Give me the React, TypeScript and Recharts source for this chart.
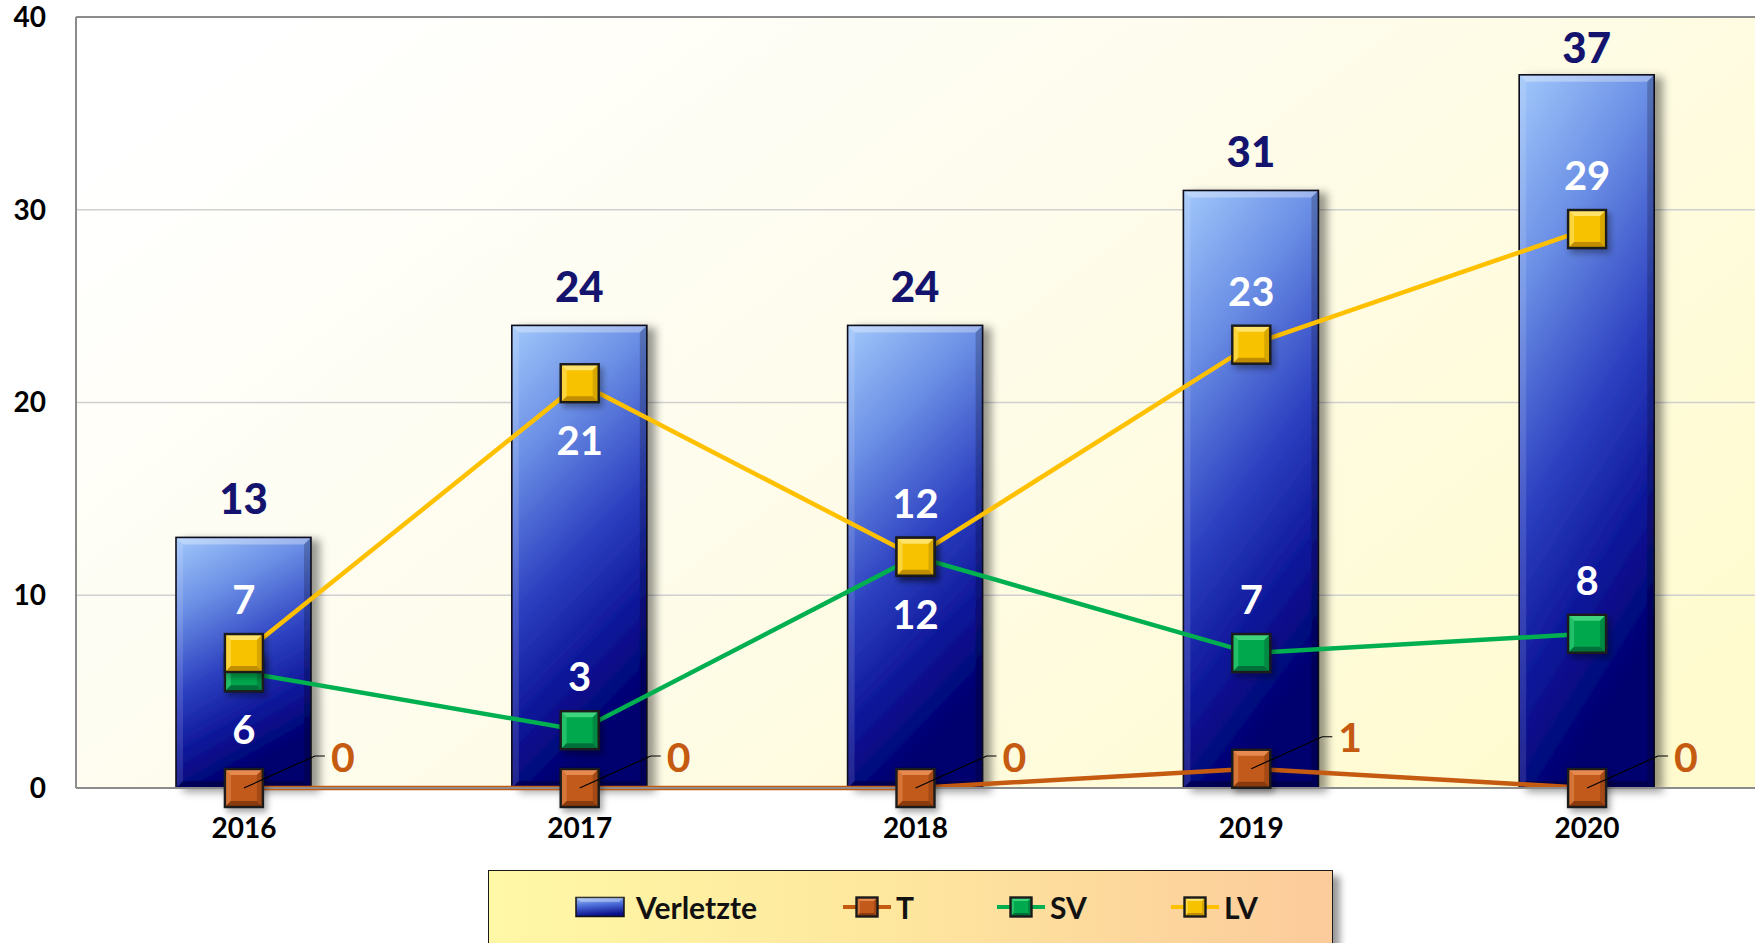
import React from 'react';
import {
  ComposedChart,
  Bar,
  Line,
  XAxis,
  YAxis,
  CartesianGrid,
  LabelList,
  ReferenceLine,
} from 'recharts';

// ---------- data ----------
const years = ['2016', '2017', '2018', '2019', '2020'];
const verletzte = [13, 24, 24, 31, 37];
const tValues = [0, 0, 0, 1, 0];
const svValues = [6, 3, 12, 7, 8];
const lvValues = [7, 21, 12, 23, 29];
const yTicks = [0, 10, 20, 30, 40];
const seriesNames = ['Verletzte', 'T', 'SV', 'LV'];

// label placement (style config)
const svLabelSide = ['below', 'above', 'below', 'above', 'above'];
const lvLabelSide = ['above', 'below', 'above', 'above', 'above'];

const data = years.map((year, i) => ({
  year,
  verletzte: verletzte[i],
  t: tValues[i],
  sv: svValues[i],
  lv: lvValues[i],
}));

const FONT = 'Lato, "Open Sans", sans-serif';
const PLOT_TOP = 17;

const COLORS = {
  t: { line: '#C55A11', base: '#C25A1C', light: '#E68A50', dark: '#8A3A0E' },
  sv: { line: '#00B050', base: '#00A84E', light: '#3FD47E', dark: '#00703A' },
  lv: { line: '#FFC000', base: '#F7C300', light: '#FFE36A', dark: '#C08E00' },
};

const BarShape = (props: any) => {
  const { x, y, width, height } = props;
  if (!height || height <= 0) return null;
  const b = 7;
  const x2 = x + width;
  const y2 = y + height;
  return (
    <g filter="url(#barShadow)">
      <rect x={x} y={y} width={width} height={height} fill="url(#barGrad)" />
      <polygon points={`${x},${y} ${x2},${y} ${x2 - b},${y + b} ${x + b},${y + b}`} fill="#ffffff" fillOpacity={0.32} />
      <polygon points={`${x},${y} ${x + b},${y + b} ${x + b},${y2 - b} ${x},${y2}`} fill="#ffffff" fillOpacity={0.12} />
      <polygon points={`${x2},${y} ${x2},${y2} ${x2 - b},${y2 - b} ${x2 - b},${y + b}`} fill="#000000" fillOpacity={0.2} />
      <polygon points={`${x},${y2} ${x + b},${y2 - b} ${x2 - b},${y2 - b} ${x2},${y2}`} fill="#000000" fillOpacity={0.28} />
      <rect x={x} y={y} width={width} height={height} fill="none" stroke="#0a0a1a" strokeWidth={1.6} />
    </g>
  );
};

const Marker = ({ cx, cy, c, hw = 19, hh = 19, b = 6, shadow = true }: any) => {
  if (cx == null || cy == null) return null;
  const l = cx - hw, r = cx + hw, t = cy - hh, bt = cy + hh;
  return (
    <g filter={shadow ? 'url(#markerShadow)' : undefined}>
      <rect x={l} y={t} width={hw * 2} height={hh * 2} fill={c.base} />
      <polygon points={`${l},${t} ${r},${t} ${r - b},${t + b} ${l + b},${t + b}`} fill={c.light} />
      <polygon points={`${l},${t} ${l + b},${t + b} ${l + b},${bt - b} ${l},${bt}`} fill={c.light} fillOpacity={0.55} />
      <polygon points={`${r},${t} ${r},${bt} ${r - b},${bt - b} ${r - b},${t + b}`} fill={c.dark} fillOpacity={0.55} />
      <polygon points={`${l},${bt} ${l + b},${bt - b} ${r - b},${bt - b} ${r},${bt}`} fill={c.dark} />
      <rect x={l} y={t} width={hw * 2} height={hh * 2} fill="none" stroke="#1a1a1a" strokeWidth={2.4} />
    </g>
  );
};

const makeDot = (key: string, c: any) => (p: any) => (
  <Marker key={`${key}-${p.index}`} cx={p.cx} cy={p.cy} c={c} />
);

const BarTopLabel = (p: any) => {
  const { x, y, width, value } = p;
  const cy = Math.max(y - 39, PLOT_TOP + 30);
  return (
    <text
      x={x + width / 2}
      y={cy}
      textAnchor="middle"
      dominantBaseline="central"
      fill="#14146E"
      fontSize={42}
      fontWeight={900}
      fontFamily={FONT}
    >
      {value}
    </text>
  );
};

const makeSideLabel = (sides: string[]) => (p: any) => {
  const { x, y, value, index } = p;
  const dy = sides[index] === 'above' ? -54 : 57;
  return (
    <text
      x={x}
      y={y + dy}
      textAnchor="middle"
      dominantBaseline="central"
      fill="#ffffff"
      fontSize={40}
      fontWeight={700}
      fontFamily={FONT}
    >
      {value}
    </text>
  );
};

const TLabel = (p: any) => {
  const { x, y, value } = p;
  const ly = y - 32;
  return (
    <g>
      <polyline points={`${x},${y} ${x + 71},${ly} ${x + 81},${ly}`} stroke="#000" strokeWidth={1.2} fill="none" />
      <text
        x={x + 87}
        y={ly}
        dominantBaseline="central"
        fill="#C55A11"
        fontSize={41}
        fontWeight={700}
        fontFamily={FONT}
      >
        {value}
      </text>
    </g>
  );
};

const LegendIcon = ({ kind }: { kind: string }) => {
  if (kind === 'bar') {
    return (
      <svg width={50} height={22} style={{ display: 'block' }}>
        <defs>
          <linearGradient id="lgBar" x1="0" y1="0" x2="0.2" y2="1">
            <stop offset="0" stopColor="#9cc2f8" />
            <stop offset="0.5" stopColor="#4666d4" />
            <stop offset="1" stopColor="#0a0f88" />
          </linearGradient>
        </defs>
        <rect x={1} y={1.5} width={48} height={19} fill="url(#lgBar)" stroke="#111" strokeWidth={1.5} />
        <polygon points="1,1.5 49,1.5 44,6 6,6" fill="#fff" fillOpacity={0.3} />
      </svg>
    );
  }
  const c = (COLORS as any)[kind];
  return (
    <svg width={50} height={22} style={{ display: 'block' }}>
      <line x1={1} y1={11} x2={49} y2={11} stroke={c.line} strokeWidth={4} />
      <Marker cx={25} cy={11} c={c} hw={10.5} hh={9.5} b={3.5} shadow={false} />
    </svg>
  );
};

const legendItems = [
  { name: seriesNames[0], kind: 'bar', iconLeft: 87, textLeft: 147 },
  { name: seriesNames[1], kind: 't', iconLeft: 354, textLeft: 407 },
  { name: seriesNames[2], kind: 'sv', iconLeft: 508, textLeft: 561 },
  { name: seriesNames[3], kind: 'lv', iconLeft: 682, textLeft: 735 },
];

export default function App() {
  return (
    <div
      style={{
        position: 'absolute',
        left: 0,
        top: 0,
        width: 1755,
        height: 943,
        overflow: 'hidden',
        background: '#ffffff',
        fontFamily: FONT,
      }}
    >
      <ComposedChart
        width={1755}
        height={943}
        data={data}
        margin={{ top: PLOT_TOP, right: 0, left: 0, bottom: 115 }}
        barSize={135}
        style={{ fontFamily: FONT }}
      >
        <defs>
          <linearGradient id="plotBg" x1="0" y1="0.2" x2="1" y2="0.8">
            <stop offset="0" stopColor="#ffffff" />
            <stop offset="0.45" stopColor="#fefcec" />
            <stop offset="1" stopColor="#fffbcf" />
          </linearGradient>
          <linearGradient id="barGrad" x1="0" y1="0" x2="0.3" y2="1">
            <stop offset="0" stopColor="#a2c8fb" />
            <stop offset="0.28" stopColor="#6b8fe5" />
            <stop offset="0.58" stopColor="#2c40c0" />
            <stop offset="0.82" stopColor="#0c1496" />
            <stop offset="1" stopColor="#00006e" />
          </linearGradient>
          <filter id="barShadow" x="-20%" y="-10%" width="150%" height="130%">
            <feDropShadow dx="8" dy="3" stdDeviation="4" floodColor="#000" floodOpacity="0.4" />
          </filter>
          <filter id="markerShadow" x="-40%" y="-40%" width="190%" height="190%">
            <feDropShadow dx="3" dy="4" stdDeviation="3" floodColor="#000" floodOpacity="0.35" />
          </filter>
        </defs>
        <CartesianGrid vertical={false} stroke="#d0d0d0" strokeWidth={1.3} fill="url(#plotBg)" />
        <XAxis
          dataKey="year"
          height={40}
          axisLine={{ stroke: '#8c8c8c', strokeWidth: 2 }}
          tickLine={false}
          tickSize={0}
          tickMargin={30}
          tick={{ fill: '#000', fontSize: 28, fontWeight: 700, fontFamily: FONT }}
          interval={0}
        />
        <YAxis
          width={76}
          domain={[0, 40]}
          ticks={yTicks}
          axisLine={{ stroke: '#8c8c8c', strokeWidth: 2 }}
          tickLine={false}
          tickSize={0}
          tickMargin={30}
          tick={{ fill: '#000', fontSize: 28, fontWeight: 700, fontFamily: FONT }}
          interval={0}
        />
        <ReferenceLine y={40} stroke="#8c8c8c" strokeWidth={2} />
        <Bar dataKey="verletzte" name={seriesNames[0]} shape={BarShape} isAnimationActive={false}>
          <LabelList dataKey="verletzte" content={BarTopLabel} />
        </Bar>
        <Line
          dataKey="t"
          name={seriesNames[1]}
          stroke={COLORS.t.line}
          strokeWidth={4.5}
          dot={makeDot('t', COLORS.t)}
          activeDot={false}
          isAnimationActive={false}
        >
          <LabelList dataKey="t" content={TLabel} />
        </Line>
        <Line
          dataKey="sv"
          name={seriesNames[2]}
          stroke={COLORS.sv.line}
          strokeWidth={4.5}
          dot={makeDot('sv', COLORS.sv)}
          activeDot={false}
          isAnimationActive={false}
        >
          <LabelList dataKey="sv" content={makeSideLabel(svLabelSide)} />
        </Line>
        <Line
          dataKey="lv"
          name={seriesNames[3]}
          stroke={COLORS.lv.line}
          strokeWidth={4.5}
          dot={makeDot('lv', COLORS.lv)}
          activeDot={false}
          isAnimationActive={false}
        >
          <LabelList dataKey="lv" content={makeSideLabel(lvLabelSide)} />
        </Line>
      </ComposedChart>

      <div
        style={{
          position: 'absolute',
          left: 488,
          top: 870,
          width: 845,
          height: 110,
          boxSizing: 'border-box',
          border: '1.6px solid #1a1a1a',
          background: 'linear-gradient(to right, #fff8a6 0%, #fee89e 45%, #fccb9b 100%)',
          boxShadow: '7px 6px 7px rgba(0,0,0,0.4)',
        }}
      >
        {legendItems.map((it) => (
          <React.Fragment key={it.name}>
            <div style={{ position: 'absolute', left: it.iconLeft - 1, top: 25 }}>
              <LegendIcon kind={it.kind} />
            </div>
            <span
              style={{
                position: 'absolute',
                left: it.textLeft,
                top: 36,
                transform: 'translateY(-50%)',
                fontSize: 30,
                fontWeight: 700,
                color: '#111',
                lineHeight: 1,
                whiteSpace: 'nowrap',
                fontFamily: FONT,
              }}
            >
              {it.name}
            </span>
          </React.Fragment>
        ))}
      </div>
    </div>
  );
}
